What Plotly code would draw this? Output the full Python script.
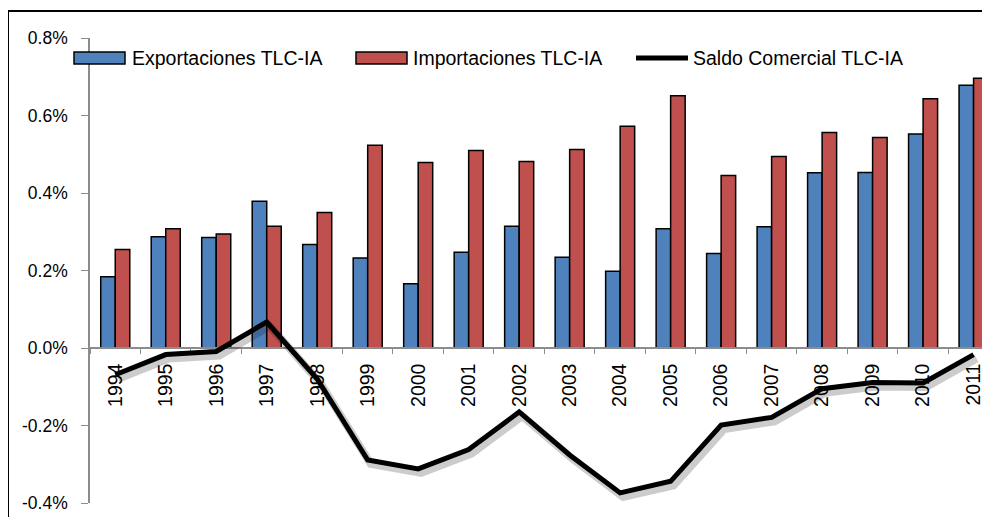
import plotly.graph_objects as go

# ---------------- data (values in %) ----------------
years = ["1994", "1995", "1996", "1997", "1998", "1999", "2000", "2001", "2002",
         "2003", "2004", "2005", "2006", "2007", "2008", "2009", "2010", "2011"]
exportaciones = [0.184, 0.287, 0.285, 0.379, 0.267, 0.232, 0.166, 0.247, 0.314,
                 0.234, 0.198, 0.308, 0.244, 0.313, 0.452, 0.453, 0.552, 0.678]
importaciones = [0.254, 0.308, 0.294, 0.314, 0.350, 0.523, 0.479, 0.510, 0.481,
                 0.512, 0.572, 0.651, 0.445, 0.494, 0.556, 0.543, 0.643, 0.696]
saldo = [-0.069, -0.017, -0.009, 0.067, -0.080, -0.289, -0.312, -0.262, -0.165,
         -0.276, -0.374, -0.344, -0.199, -0.179, -0.105, -0.089, -0.090, -0.017]
y_tick_values = [-0.4, -0.2, 0.0, 0.2, 0.4, 0.6, 0.8]
y_tick_labels = ["-0.4%", "-0.2%", "0.0%", "0.2%", "0.4%", "0.6%", "0.8%"]
series_names = ["Exportaciones TLC-IA", "Importaciones TLC-IA", "Saldo Comercial TLC-IA"]

# ---------------- styling / geometry ----------------
OFF = 8                              # page body margin offset of the figure
W, H = 990 - OFF, 525 - 2 * OFF
PLOT_BOTTOM = 508                    # screen y of paper bottom
L, R, T = 90 - OFF, 0, 38 - OFF      # plot area on screen: x 90..990, y 38..508
B = H - (PLOT_BOTTOM - OFF)
PW, PH = W - L - R, H - T - B
FONT = "Liberation Sans, Arial, sans-serif"
BLUE, RED = "#4F81BD", "#C0504D"
AXIS_GREY = "#8C8C8C"
cat_px = 50.49
SX, SY = 3, 4                        # shadow offset (px)
BOT_PAD = 5                          # main plot bottom is 5 px above paper bottom
y_range = [-0.4, 0.8]
x_range_main = [-0.5, -0.5 + PW / cat_px]
x_range_shadow = [-0.5, -0.5 + (PW - SX) / cat_px]
y_dom_main = [BOT_PAD / PH, 1]
y_dom_shadow = [(BOT_PAD - SY) / PH, 1 - SY / PH]


def px_x(p):  # screen px -> paper x
    return (p - OFF - L) / PW


def px_y(p):  # screen px -> paper y
    return (H - B - (p - OFF)) / PH


fig = go.Figure()
fig.add_trace(go.Bar(x=years, y=exportaciones, name=series_names[0],
                     marker=dict(color=BLUE, line=dict(color="black", width=1.5)),
                     showlegend=False, xaxis="x", yaxis="y"))
fig.add_trace(go.Bar(x=years, y=importaciones, name=series_names[1],
                     marker=dict(color=RED, line=dict(color="black", width=1.5)),
                     showlegend=False, xaxis="x", yaxis="y"))
# soft shadow of the line (same data, on a slightly shifted copy of the axes)
fig.add_trace(go.Scatter(x=years, y=saldo, mode="lines", name="shadow",
                         line=dict(color="rgba(0,0,0,0.2)", width=8),
                         showlegend=False, hoverinfo="skip", xaxis="x2", yaxis="y2"))
fig.add_trace(go.Scatter(x=years, y=saldo, mode="lines", name=series_names[2],
                         line=dict(color="black", width=5),
                         showlegend=False, xaxis="x3", yaxis="y3"))

zero_pos = y_dom_main[0] + (0 - y_range[0]) / (y_range[1] - y_range[0]) * (y_dom_main[1] - y_dom_main[0])

hidden = dict(visible=False, fixedrange=True)
fig.update_layout(
    width=W, height=H,
    margin=dict(l=L, r=R, t=T, b=B, pad=0),
    paper_bgcolor="white", plot_bgcolor="rgba(0,0,0,0)",
    barmode="group", bargap=0.425, bargroupgap=0,
    font=dict(family=FONT, color="black"),
    showlegend=False,
    xaxis=dict(type="category", range=x_range_main, domain=[0, 1], anchor="free",
               position=zero_pos, showline=True, linecolor=AXIS_GREY, linewidth=1.5,
               ticks="outside", tickson="boundaries", ticklen=5, tickcolor=AXIS_GREY,
               tickwidth=1.2, tickangle=-90, tickfont=dict(size=19.5, family=FONT),
               ticklabelstandoff=7, showgrid=False, zeroline=False, automargin=False),
    yaxis=dict(range=y_range, domain=y_dom_main, tickvals=y_tick_values, ticktext=y_tick_labels,
               showline=True, linecolor=AXIS_GREY, linewidth=1.5, ticks="outside",
               ticklen=7, tickcolor=AXIS_GREY, tickwidth=1.2,
               tickfont=dict(size=17.5, family=FONT), ticklabelstandoff=10,
               showgrid=False, zeroline=False, automargin=False),
    xaxis2=dict(type="category", range=x_range_shadow, domain=[SX / PW, 1], anchor="y2", **hidden),
    yaxis2=dict(range=y_range, domain=y_dom_shadow, anchor="x2", **hidden),
    xaxis3=dict(type="category", range=x_range_main, domain=[0, 1], anchor="y3", **hidden),
    yaxis3=dict(range=y_range, domain=y_dom_main, anchor="x3", **hidden),
)

# outer chart frame (left + top edges visible)
fig.add_shape(type="rect", xref="paper", yref="paper",
              x0=px_x(8), x1=px_x(1010), y0=px_y(540), y1=px_y(11),
              line=dict(color="black", width=2), fillcolor="rgba(0,0,0,0)", layer="below")

# manual legend
leg_y = 58
fig.add_shape(type="rect", xref="paper", yref="paper",
              x0=px_x(74), x1=px_x(125), y0=px_y(64), y1=px_y(52),
              fillcolor=BLUE, line=dict(color="black", width=1.5))
fig.add_shape(type="rect", xref="paper", yref="paper",
              x0=px_x(356), x1=px_x(407), y0=px_y(64), y1=px_y(52),
              fillcolor=RED, line=dict(color="black", width=1.5))
fig.add_shape(type="line", xref="paper", yref="paper",
              x0=px_x(636), x1=px_x(688), y0=px_y(leg_y), y1=px_y(leg_y),
              line=dict(color="black", width=5))
for name, xpx in zip(series_names, [130, 411, 691]):
    fig.add_annotation(text=name, xref="paper", yref="paper", x=px_x(xpx), y=px_y(leg_y),
                       xanchor="left", yanchor="middle", showarrow=False,
                       font=dict(size=19.5, family=FONT, color="black"))

fig.write_html("out.html")
